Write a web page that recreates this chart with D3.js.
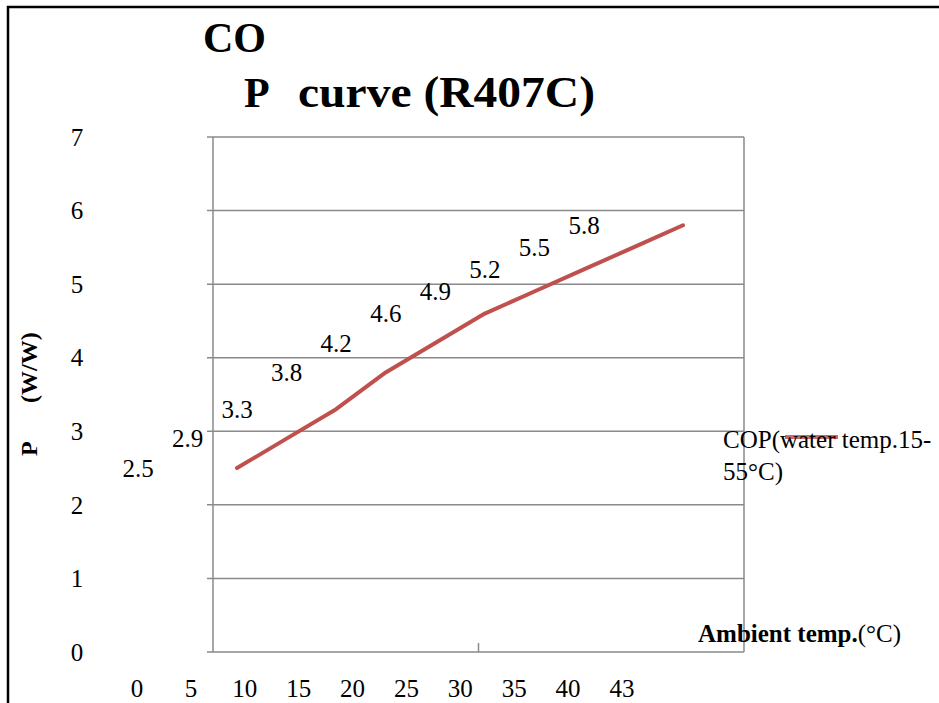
<!DOCTYPE html>
<html>
<head>
<meta charset="utf-8">
<script src="https://cdn.jsdelivr.net/npm/d3@7"></script>
<style>
    body { margin: 0; background: #fff; }
</style>
</head>
<body>
<script>
// chart data
const tempLabels = ["0", "5", "10", "15", "20", "25", "30", "35", "40", "43"];
const copValues = [2.5, 2.9, 3.3, 3.8, 4.2, 4.6, 4.9, 5.2, 5.5, 5.8];
const yTicks = [0, 1, 2, 3, 4, 5, 6, 7];
const seriesName = ["COP(water temp.15-", "55°C)"];
const titleLines = ["CO", "P", "curve (R407C)"];

const width = 939;
const height = 703;
const lineColour = "#c0504d";
const gridColour = "#8a8a8a";
const serif = "'Liberation Serif', 'DejaVu Serif', serif";

const svg = d3
    .select("body")
    .append("svg")
    .attr("width", width)
    .attr("height", height)
    .attr("font-family", serif)
    .style("font-family", serif);

// plot area
const plot = { left: 213, right: 744, top: 137, bottom: 652 };

const y = d3.scaleLinear().domain([0, 7]).range([plot.bottom, plot.top]);
const x = d3.scalePoint().domain(tempLabels).range([237, 683]);
// the category labels sit on their own (shifted) row
const xLabel = d3.scalePoint().domain(tempLabels).range([137, 622]);

// outer frame
svg.append("path")
    .attr("d", `M8,${height} L8,7 L${width},7`)
    .attr("fill", "none")
    .attr("stroke", "#000")
    .attr("stroke-width", 2.5);

// gridlines
svg.selectAll(".grid")
    .data(yTicks)
    .enter()
    .append("line")
    .attr("class", "grid")
    .attr("x1", plot.left - 6)
    .attr("x2", plot.right)
    .attr("y1", (d) => y(d))
    .attr("y2", (d) => y(d))
    .attr("stroke", gridColour)
    .attr("stroke-width", 1.5);

// left axis and right border
[plot.left, plot.right].forEach((px) => {
    svg.append("line")
        .attr("x1", px)
        .attr("x2", px)
        .attr("y1", y(7))
        .attr("y2", y(0))
        .attr("stroke", gridColour)
        .attr("stroke-width", 1.5);
});

// lone x tick in the middle
svg.append("line")
    .attr("x1", (plot.left + plot.right) / 2)
    .attr("x2", (plot.left + plot.right) / 2)
    .attr("y1", y(0) - 9)
    .attr("y2", y(0))
    .attr("stroke", gridColour)
    .attr("stroke-width", 1.5);

// y tick labels
svg.selectAll(".ylab")
    .data(yTicks)
    .enter()
    .append("text")
    .attr("class", "ylab")
    .attr("x", 77)
    .attr("y", (d) => y(d))
    .attr("dy", "0.35em")
    .attr("text-anchor", "middle")
    .style("font-size", "25px")
    .text((d) => d);

// x tick labels
svg.selectAll(".xlab")
    .data(tempLabels)
    .enter()
    .append("text")
    .attr("class", "xlab")
    .attr("x", (d) => xLabel(d))
    .attr("y", 697)
    .attr("text-anchor", "middle")
    .style("font-size", "25px")
    .text((d) => d);

// series line
const line = d3
    .line()
    .x((d, i) => x(tempLabels[i]))
    .y((d) => y(d));

svg.append("path")
    .datum(copValues)
    .attr("d", line)
    .attr("fill", "none")
    .attr("stroke", lineColour)
    .attr("stroke-width", 4)
    .attr("stroke-linejoin", "round")
    .attr("stroke-linecap", "round");

// data labels (drawn offset to the left of their points)
svg.selectAll(".dlab")
    .data(copValues)
    .enter()
    .append("text")
    .attr("class", "dlab")
    .attr("x", (d, i) => x(tempLabels[i]) - 99)
    .attr("y", (d) => y(d))
    .attr("dy", "0.35em")
    .attr("text-anchor", "middle")
    .style("font-size", "25px")
    .text((d) => d.toFixed(1));

// legend
svg.append("line")
    .attr("x1", 785)
    .attr("x2", 838)
    .attr("y1", 437)
    .attr("y2", 437)
    .attr("stroke", lineColour)
    .attr("stroke-opacity", 0.85)
    .attr("stroke-width", 4);

svg.selectAll(".leg")
    .data(seriesName)
    .enter()
    .append("text")
    .attr("class", "leg")
    .attr("x", 723)
    .attr("y", (d, i) => 448 + i * 32)
    .style("font-size", "25px")
    .text((d) => d);

// x axis title
const xTitle = svg.append("text")
    .attr("x", 698)
    .attr("y", 642)
    .style("font-size", "25px");
xTitle.append("tspan").style("font-weight", "bold").text("Ambient temp.");
xTitle.append("tspan").text("(°C)");

// y axis title
svg.append("text")
    .attr("transform", "translate(37,456) rotate(-90)")
    .style("font-size", "24px")
    .style("font-weight", "bold")
    .text("P");
svg.append("text")
    .attr("transform", "translate(37,403) rotate(-90)")
    .style("font-size", "24px")
    .style("font-weight", "bold")
    .text("(W/W)");

// title
svg.append("text")
    .attr("x", 203)
    .attr("y", 52)
    .style("font-size", "42px")
    .style("font-weight", "bold")
    .text(titleLines[0]);
svg.append("text")
    .attr("x", 244)
    .attr("y", 107)
    .style("font-size", "42px")
    .style("font-weight", "bold")
    .text(titleLines[1]);
svg.append("text")
    .attr("x", 298)
    .attr("y", 107)
    .attr("textLength", 297)
    .attr("lengthAdjust", "spacingAndGlyphs")
    .style("font-size", "44px")
    .style("font-weight", "bold")
    .text(titleLines[2]);
</script>
</body>
</html>
